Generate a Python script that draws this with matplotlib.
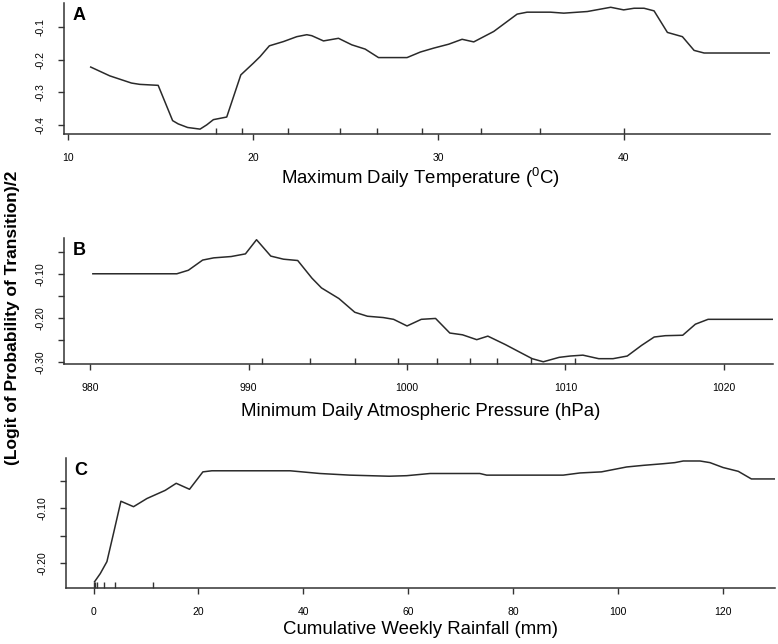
import matplotlib
matplotlib.use('Agg')
import matplotlib.pyplot as plt
from matplotlib.ticker import FixedLocator, FuncFormatter

plt.rcParams['font.family'] = ['Liberation Sans', 'DejaVu Sans']
plt.rcParams['mathtext.fontset'] = 'custom'
plt.rcParams['mathtext.rm'] = 'Liberation Sans'

# panel A: maximum daily temperature
temp_x = [11.24, 12.27, 13.44, 13.89, 14.88, 15.66, 15.96, 16.47, 17.14, 17.5, 17.86, 18.58,
          19.34, 20.02, 20.38, 20.88, 21.64, 22.36, 22.9, 23.17, 23.8, 24.61, 25.33, 26.05,
          26.77, 27.95, 28.31, 29.03, 29.75, 30.56, 31.28, 31.91, 32.99, 34.25, 34.79, 36.05,
          36.77, 38.04, 39.3, 40.0, 40.56, 41.1, 41.64, 42.36, 43.17, 43.8, 44.34, 47.9]
temp_y = [-0.223, -0.250, -0.272, -0.276, -0.279, -0.387, -0.397, -0.408, -0.413, -0.400,
          -0.384, -0.376, -0.247, -0.211, -0.191, -0.158, -0.145, -0.130, -0.124, -0.127,
          -0.143, -0.135, -0.155, -0.168, -0.194, -0.194, -0.194, -0.177, -0.165, -0.153,
          -0.138, -0.146, -0.114, -0.061, -0.055, -0.055, -0.058, -0.053, -0.040, -0.048,
          -0.043, -0.043, -0.051, -0.117, -0.130, -0.172, -0.180, -0.180]
temp_rug = [18.0, 19.4, 21.9, 24.7, 26.7, 29.1, 32.3, 35.5, 40.0]

# panel B: minimum daily atmospheric pressure
pres_x = [980.17, 985.47, 986.2, 987.1, 987.8, 988.9, 989.8, 990.5, 991.4, 992.2, 993.1,
          994.0, 994.6, 995.7, 996.7, 997.5, 998.5, 999.15, 1000.0, 1000.9, 1001.8, 1002.7,
          1003.5, 1004.4, 1005.1, 1006.2, 1007.1, 1007.9, 1008.6, 1009.6, 1010.3, 1011.1,
          1012.1, 1013.0, 1013.9, 1014.8, 1015.6, 1016.3, 1017.4, 1018.2, 1019.0, 1023.1]
pres_y = [-0.100, -0.100, -0.092, -0.069, -0.064, -0.061, -0.055, -0.023, -0.060, -0.067,
          -0.070, -0.110, -0.132, -0.156, -0.187, -0.196, -0.199, -0.203, -0.218, -0.203,
          -0.201, -0.234, -0.238, -0.249, -0.241, -0.260, -0.277, -0.292, -0.299, -0.289,
          -0.286, -0.284, -0.292, -0.292, -0.286, -0.262, -0.243, -0.240, -0.239, -0.214,
          -0.203, -0.203]
pres_rug = [990.84, 993.9, 996.7, 999.4, 1001.9, 1004.0, 1005.7, 1007.8, 1010.6]

# panel C: cumulative weekly rainfall
rain_x = [0.19, 1.28, 2.55, 3.81, 5.22, 7.63, 10.18, 13.67, 15.77, 18.31, 20.86, 22.57,
          37.5, 43.2, 48.9, 56.4, 59.75, 64.2, 73.7, 75.0, 89.6, 92.8, 96.9, 101.7, 104.9,
          108.7, 110.9, 112.5, 115.7, 117.6, 120.1, 123.0, 125.5, 130.0]
rain_y = [-0.235, -0.220, -0.198, -0.146, -0.087, -0.097, -0.082, -0.067, -0.054, -0.065,
          -0.033, -0.031, -0.031, -0.036, -0.039, -0.041, -0.040, -0.036, -0.036, -0.039,
          -0.039, -0.035, -0.033, -0.024, -0.021, -0.018, -0.016, -0.013, -0.013, -0.016,
          -0.025, -0.032, -0.046, -0.046]
rain_rug = [0.0, 0.32, 0.64, 1.9, 4.0, 11.4]

fig = plt.figure(figsize=(7.78, 6.44), dpi=100)

panels = [
    dict(pos=[0.0823, 0.7919, 0.9075, 0.2034], x=temp_x, y=temp_y, rug=temp_rug,
         xlim=(9.8, 47.9), ylim=(-0.428, -0.027), xt=[10, 20, 30, 40],
         yt=[-0.1, -0.2, -0.3, -0.4], ylab=[-0.1, -0.2, -0.3, -0.4], fmt='%.1f',
         xlabel='Maximum Daily Temperature ($\\mathregular{^{0}}$C)', xly=178, letter='A'),
    dict(pos=[0.0823, 0.4348, 0.9113, 0.1957], x=pres_x, y=pres_y, rug=pres_rug,
         xlim=(978.35, 1023.1), ylim=(-0.304, -0.019), xt=[980, 990, 1000, 1010, 1020],
         yt=[-0.05, -0.10, -0.15, -0.20, -0.25, -0.30], ylab=[-0.10, -0.20, -0.30], fmt='%.2f',
         xlabel='Minimum Daily Atmospheric Pressure (hPa)', xly=411, letter='B'),
    dict(pos=[0.0848, 0.0865, 0.9113, 0.2019], x=rain_x, y=rain_y, rug=rain_rug,
         xlim=(-5.26, 130), ylim=(-0.247, -0.008), xt=[0, 20, 40, 60, 80, 100, 120],
         yt=[-0.05, -0.10, -0.15, -0.20], ylab=[-0.10, -0.20], fmt='%.2f',
         xlabel='Cumulative Weekly Rainfall (mm)', xly=629, letter='C'),
]

axcol = '#333333'
for p in panels:
    ax = fig.add_axes(p['pos'])
    ax.plot(p['x'], p['y'], color='#2a2a2a', lw=1.1)
    ax.set_xlim(*p['xlim'])
    ax.set_ylim(*p['ylim'])
    for s in ['top', 'right']:
        ax.spines[s].set_visible(False)
    for s in ['left', 'bottom']:
        ax.spines[s].set_color(axcol)
        ax.spines[s].set_linewidth(1.1)
    ax.xaxis.remove_overlapping_locs = False
    ax.set_xticks(p['xt'])
    ax.xaxis.set_minor_locator(FixedLocator(p['rug']))
    ax.tick_params(axis='x', which='major', direction='out', length=4.5, width=1,
                   color=axcol, labelsize=7.5, pad=9)
    ax.tick_params(axis='x', which='minor', direction='in', length=4.5, width=1, color=axcol)
    ax.set_yticks(p['yt'])
    labs = p['ylab']
    fmt = p['fmt']
    ax.yaxis.set_major_formatter(FuncFormatter(
        lambda v, pos, labs=labs, fmt=fmt: (fmt % v) if any(abs(v - l) < 1e-9 for l in labs) else ''))
    ax.tick_params(axis='y', direction='out', length=4, width=1, color=axcol,
                   labelsize=7.5, pad=9)
    for t in ax.get_yticklabels():
        t.set_rotation(90)
        t.set_va('center')
    ax.text(0.012, 0.97, p['letter'], transform=ax.transAxes, fontsize=13,
            fontweight='bold', va='top', ha='left')
    fig.text(0.541, 1 - p['xly'] / 644, p['xlabel'], fontsize=13.4, ha='center', va='center')

fig.text(0.016, 1 - 318 / 644, '(Logit of Probability of Transition)/2', rotation=90,
         fontsize=12.5, fontweight='bold', ha='center', va='center')

fig.savefig('out.png', dpi=100)
